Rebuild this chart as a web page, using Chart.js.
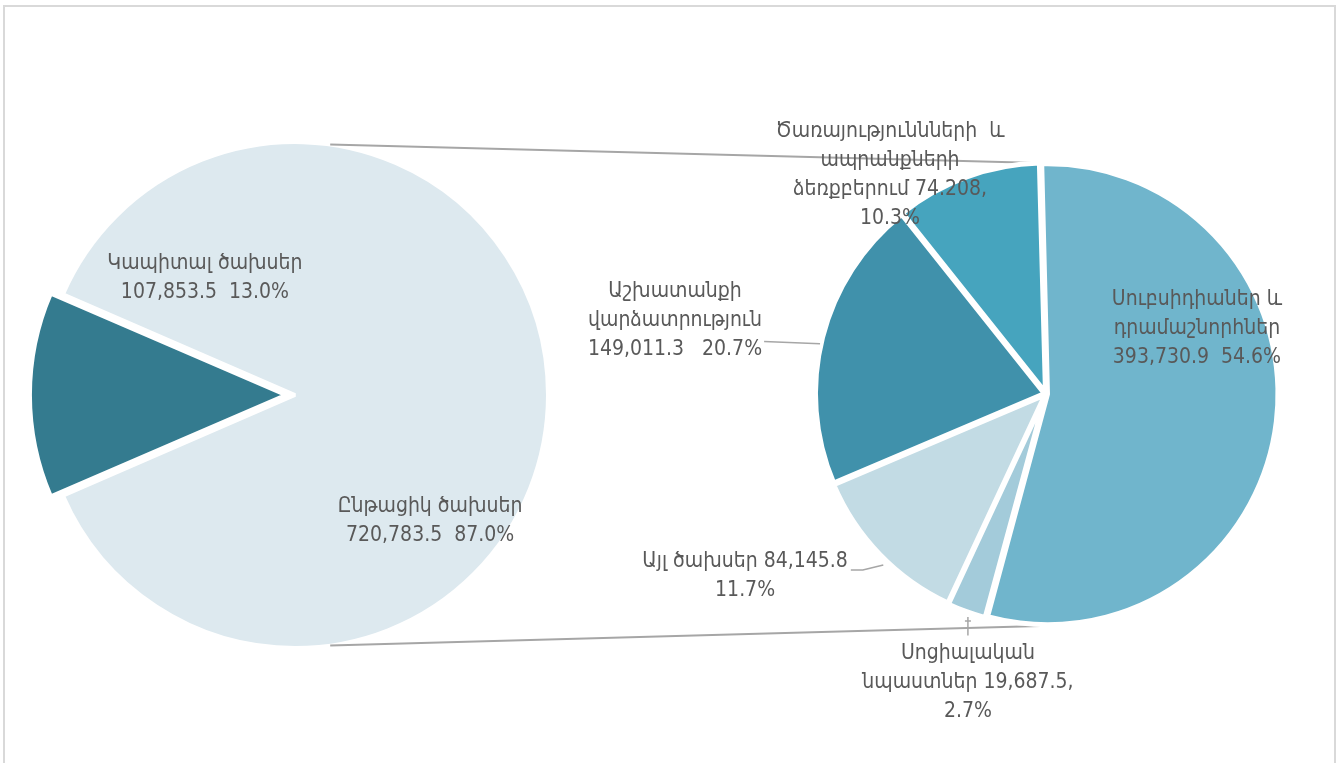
<!DOCTYPE html>
<html>
<head>
<meta charset="utf-8">
<script src="https://cdn.jsdelivr.net/npm/chart.js@4.4.1/dist/chart.umd.min.js"></script>
<style>
  html, body { margin: 0; padding: 0; background: #fff; overflow: hidden; }
  #wrap { position: relative; width: 1341px; height: 763px; }
  #frame { position: absolute; left: 3px; top: 5px; width: 1333px; height: 800px; border: 2px solid #d9d9d9; box-sizing: border-box; }
  canvas { position: absolute; left: 0; top: 0; }
</style>
</head>
<body>
<div id="wrap">
  <div id="frame"></div>
  <canvas id="mainPie" width="1341" height="763"></canvas>
  <canvas id="subPie" width="1341" height="763"></canvas>
</div>
<script>
// main pie: capital vs current expenses
const mainNames = ['Կապիտալ ծախսեր', 'Ընթացիկ ծախսեր'];
const mainValues = [107853.5, 720783.5];
const mainLabels = [
  ['Կապիտալ ծախսեր', '107,853.5  13.0%'],
  ['Ընթացիկ ծախսեր', '720,783.5  87.0%']
];
const mainColors = ['#347b8f', '#dde9ef'];

// second pie: breakdown of current expenses
const subNames = ['Սուբսիդիաներ և դրամաշնորհներ', 'Սոցիալական նպաստներ', 'Այլ ծախսեր', 'Աշխատանքի վարձատրություն', 'Ծառայությունների և ապրանքների ձեռքբերում'];
const subValues = [393730.9, 19687.5, 84145.8, 149011.3, 74208];
const subLabels = [
  ['Սուբսիդիաներ և', 'դրամաշնորհներ', '393,730.9  54.6%'],
  ['Սոցիալական', 'նպաստներ 19,687.5,', '2.7%'],
  ['Այլ ծախսեր 84,145.8', '11.7%'],
  ['Աշխատանքի', 'վարձատրություն', '149,011.3   20.7%'],
  ['Ծառայություննների  և', 'ապրանքների', 'ձեռքբերում 74.208,', '10.3%']
];
const subColors = ['#70b5cc', '#a3cbda', '#c2dbe4', '#4091ab', '#46a4be'];

const FONT = '21px "DejaVu Sans Condensed", "DejaVu Sans", sans-serif';
const TEXT = '#595959';
const LINE = '#a6a6a6';
const LINE_H = 29;

// label block centres, as fractions of the pie radius from its centre
const mainLabelPos = [[-0.356, -0.464], [0.534, 0.5]];
const subLabelPos = [[0.659, -0.288], [-0.341, 1.262], [-1.314, 0.793], [-1.62, -0.321], [-0.681, -0.956]];
// which label line a leader line leaves from, and its shape
const subLeaders = { 1: [0, 'down'], 2: [0, 'other'], 3: [2, 'mid'] };

function drawBlock(ctx, lines, x, y) {
  ctx.save();
  ctx.font = FONT;
  ctx.fillStyle = TEXT;
  ctx.textAlign = 'center';
  ctx.textBaseline = 'middle';
  const top = y - (lines.length - 1) * LINE_H / 2;
  const ends = lines.map((t, i) => {
    ctx.fillText(t, x, top + i * LINE_H);
    return [x + ctx.measureText(t).width / 2, top + i * LINE_H];
  });
  ctx.restore();
  return { top, ends };
}

const mainLabelPlugin = {
  id: 'mainLabels',
  afterDatasetsDraw(chart) {
    const ctx = chart.ctx;
    chart.getDatasetMeta(0).data.forEach((arc, i) => {
      const r = arc.outerRadius;
      drawBlock(ctx, mainLabels[i], arc.x + mainLabelPos[i][0] * r, arc.y + mainLabelPos[i][1] * r);
    });
  }
};

const mainChart = new Chart(document.getElementById('mainPie'), {
  type: 'pie',
  data: {
    labels: mainNames,
    datasets: [{
      data: mainValues,
      backgroundColor: mainColors,
      borderColor: '#ffffff',
      borderWidth: 4,
      offset: [38, 0]
    }]
  },
  options: {
    responsive: false,
    animation: false,
    events: [],
    // centre the capital slice on the left side
    rotation: 270 - mainValues[0] / (mainValues[0] + mainValues[1]) * 180,
    radius: 253,
    layout: { padding: { left: 20, right: 771, top: 30, bottom: 3 } },
    plugins: { legend: { display: false }, tooltip: { enabled: false } }
  },
  plugins: [mainLabelPlugin]
});

function pointAt(cx, cy, r, deg) {
  const a = deg * Math.PI / 180;
  return [cx + r * Math.sin(a), cy - r * Math.cos(a)];
}

const subPlugin = {
  id: 'subExtras',
  beforeDatasetsDraw(chart) {
    // connector lines from the main pie to the second pie
    const m = mainChart.getDatasetMeta(0).data[1];
    const s = chart.getDatasetMeta(0).data[0];
    const ctx = chart.ctx;
    ctx.save();
    ctx.strokeStyle = LINE;
    ctx.lineWidth = 2;
    const a1 = pointAt(m.x, m.y, m.outerRadius, 8);
    const b1 = pointAt(s.x, s.y, s.outerRadius + 2, -1.5);
    const a2 = pointAt(m.x, m.y, m.outerRadius, 172);
    const b2 = pointAt(s.x, s.y, s.outerRadius + 3, 181.5);
    ctx.beginPath();
    ctx.moveTo(a1[0], a1[1]); ctx.lineTo(b1[0], b1[1]);
    ctx.moveTo(a2[0], a2[1]); ctx.lineTo(b2[0], b2[1]);
    ctx.stroke();
    ctx.restore();
  },
  afterDatasetsDraw(chart) {
    const ctx = chart.ctx;
    const arcs = chart.getDatasetMeta(0).data;
    arcs.forEach((arc, i) => {
      const r = arc.outerRadius;
      const mid = (arc.startAngle + arc.endAngle) / 2;
      const ex = arc.x + Math.cos(mid) * r;
      const ey = arc.y + Math.sin(mid) * r;
      const lx = arc.x + subLabelPos[i][0] * r;
      const ly = arc.y + subLabelPos[i][1] * r;
      const block = drawBlock(ctx, subLabels[i], lx, ly);
      const ld = subLeaders[i];
      if (!ld) return;
      ctx.save();
      ctx.strokeStyle = LINE;
      ctx.lineWidth = 1.5;
      ctx.beginPath();
      if (ld[1] === 'down') {
        const sy = block.top - LINE_H / 2 - 4;
        ctx.moveTo(lx, sy);
        ctx.lineTo(lx, ey + 8);
        ctx.moveTo(lx - 3, ey + 12); ctx.lineTo(lx + 3, ey + 12);
      } else if (ld[1] === 'other') {
        const [sx, sy] = block.ends[ld[0]];
        ctx.moveTo(sx + 3, sy + 9);
        ctx.lineTo(sx + 15, sy + 9);
        ctx.lineTo(ex + 2, ey + 12);
      } else {
        const [sx, sy] = block.ends[ld[0]];
        ctx.moveTo(sx + 2, sy - 8);
        ctx.lineTo(ex - 4, ey + 6);
      }
      ctx.stroke();
      ctx.restore();
    });
  }
};

new Chart(document.getElementById('subPie'), {
  type: 'pie',
  data: {
    labels: subNames,
    datasets: [{
      data: subValues,
      backgroundColor: subColors,
      borderColor: '#ffffff',
      borderWidth: 5,
      offset: 6
    }]
  },
  options: {
    responsive: false,
    animation: false,
    events: [],
    rotation: -1.5,
    radius: 229,
    layout: { padding: { left: 751, right: 0, top: 30, bottom: 5 } },
    plugins: { legend: { display: false }, tooltip: { enabled: false } }
  },
  plugins: [subPlugin]
});
</script>
</body>
</html>
